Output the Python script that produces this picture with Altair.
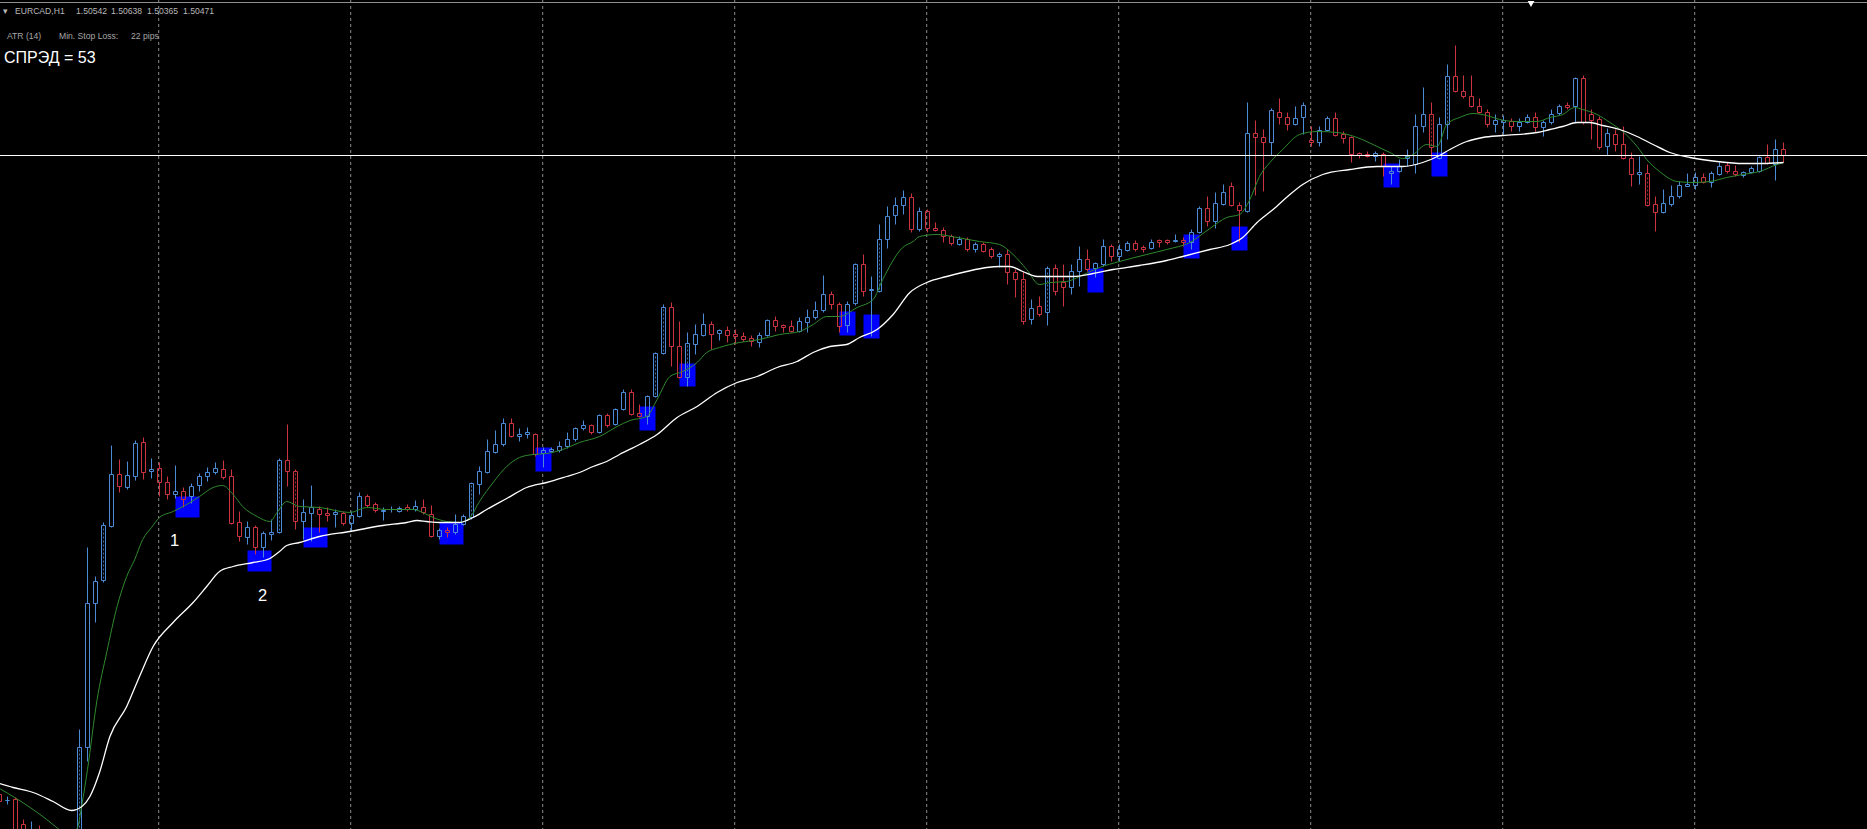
import altair as alt
import pandas as pd

# ---------------- data (price in chart points: 0 = bottom of visible range, 1 point = 0.5 pip) ----
FIRST_BAR = -1
opens = [34, 28, 29, 4, -31, -6, -31, -51, -41, -61,
         -41, 81, 225, 248, 302, 354, 341, 352, 386, 357,
         360, 346, 334, 337, 332, 343, 352, 356, 359, 352,
         306, 291, 301, 281, 294, 296, 368, 357, 307, 315,
         319, 315, 314, 315, 305, 312, 332, 324, 317, 319,
         317, 321, 319, 321, 314, 292, 298, 296, 304, 311,
         344, 356, 376, 384, 405, 392, 394, 394, 375, 377,
         378, 382, 389, 400, 403, 396, 413, 404, 419, 436,
         415, 412, 432, 475, 521, 482, 451, 484, 493, 504,
         495, 498, 494, 492, 490, 486, 493, 508, 503, 502,
         497, 506, 511, 518, 534, 524, 503, 525, 564, 538,
         537, 589, 613, 623, 631, 599, 617, 600, 598, 592,
         584, 589, 579, 584, 579, 572, 574, 556, 549, 509,
         522, 516, 560, 546, 541, 557, 569, 560, 564, 582,
         572, 578, 585, 581, 580, 588, 588, 587, 588, 586,
         596, 620, 607, 624, 642, 623, 617, 695, 691, 686,
         716, 711, 704, 711, 688, 686, 698, 710, 694, 691,
         675, 674, 672, 674, 655, 657, 670, 664, 702, 714,
         670, 704, 752, 737, 732, 722, 716, 704, 706, 707,
         702, 706, 711, 701, 706, 715, 723, 722, 750, 714,
         709, 682, 694, 684, 670, 654, 655, 624, 616, 624,
         632, 642, 643, 651, 646, 654, 663, 657, 653, 656,
         657, 671, 664, 679]
highs = [36, 32, 31, 9, 7, 3, -21, -31, -36, -31,
         99, 281, 252, 306, 383, 369, 367, 388, 391, 370,
         366, 352, 363, 341, 345, 355, 361, 366, 368, 359,
         317, 307, 303, 297, 309, 370, 404, 359, 329, 343,
         322, 321, 319, 317, 317, 336, 334, 326, 321, 322,
         322, 324, 328, 329, 323, 300, 301, 314, 314, 346,
         362, 389, 398, 410, 410, 400, 401, 395, 381, 381,
         387, 396, 401, 408, 404, 414, 415, 420, 439, 439,
         424, 433, 476, 524, 526, 507, 496, 504, 515, 507,
         499, 502, 499, 496, 493, 496, 509, 512, 504, 508,
         511, 519, 527, 553, 537, 526, 527, 565, 574, 552,
         604, 622, 631, 638, 635, 621, 619, 606, 601, 594,
         592, 591, 586, 586, 581, 576, 579, 559, 557, 529,
         532, 562, 564, 564, 564, 582, 579, 566, 589, 584,
         584, 587, 588, 583, 589, 589, 589, 594, 591, 599,
         622, 632, 636, 644, 646, 626, 726, 708, 699, 720,
         730, 716, 722, 726, 702, 702, 712, 716, 697, 692,
         676, 677, 677, 676, 662, 669, 679, 714, 741, 726,
         711, 764, 783, 753, 753, 730, 719, 714, 713, 710,
         710, 714, 716, 708, 719, 724, 726, 751, 753, 719,
         712, 700, 699, 702, 676, 672, 664, 632, 639, 643,
         647, 655, 656, 655, 657, 666, 666, 663, 657, 662,
         672, 684, 689, 686]
lows = [25, 24, -21, -31, -41, -41, -61, -66, -71, -71,
        -51, 67, 206, 246, 301, 336, 339, 348, 349, 350,
        332, 329, 330, 321, 325, 337, 347, 354, 349, 304,
        287, 284, 274, 271, 288, 295, 342, 299, 289, 287,
        296, 307, 301, 303, 297, 311, 321, 316, 308, 316,
        316, 317, 317, 314, 291, 289, 291, 294, 303, 309,
        334, 355, 375, 382, 391, 387, 390, 372, 361, 376,
        376, 380, 387, 398, 394, 395, 401, 403, 418, 413,
        411, 404, 431, 474, 462, 450, 442, 474, 492, 479,
        488, 486, 484, 487, 482, 481, 492, 497, 496, 496,
        496, 496, 509, 516, 519, 496, 496, 523, 532, 492,
        536, 580, 604, 614, 596, 597, 596, 597, 586, 583,
        583, 577, 576, 576, 570, 561, 544, 531, 504, 504,
        512, 503, 533, 522, 534, 542, 557, 551, 562, 567,
        567, 577, 577, 576, 579, 581, 584, 586, 582, 579,
        595, 602, 600, 623, 622, 586, 616, 633, 637, 673,
        704, 698, 703, 694, 682, 682, 697, 692, 685, 666,
        670, 671, 667, 652, 644, 656, 662, 655, 696, 671,
        669, 689, 736, 730, 721, 715, 701, 696, 694, 697,
        697, 705, 696, 692, 704, 713, 719, 706, 704, 689,
        679, 673, 677, 669, 642, 644, 622, 597, 615, 622,
        630, 642, 639, 645, 641, 653, 655, 652, 651, 655,
        656, 664, 648, 666]
closes = [27, 28, -11, -21, -6, -31, -51, -41, -61, -41,
          81, 225, 247, 303, 354, 342, 353, 385, 356, 359,
          346, 334, 337, 329, 342, 352, 356, 360, 351, 305,
          292, 301, 281, 295, 296, 368, 357, 307, 316, 321,
          314, 313, 316, 305, 313, 332, 323, 318, 318, 319,
          320, 319, 322, 316, 292, 298, 296, 304, 312, 345,
          357, 377, 384, 405, 392, 394, 396, 374, 378, 379,
          382, 389, 400, 403, 396, 413, 403, 419, 436, 414,
          412, 432, 475, 521, 482, 451, 485, 494, 504, 494,
          498, 493, 492, 489, 487, 493, 508, 502, 501, 497,
          507, 511, 518, 534, 524, 502, 524, 564, 537, 539,
          589, 612, 623, 631, 599, 617, 600, 598, 592, 585,
          589, 579, 584, 577, 572, 574, 556, 549, 507, 520,
          514, 560, 537, 541, 557, 569, 559, 565, 582, 572,
          579, 585, 579, 579, 586, 586, 586, 588, 586, 596,
          620, 607, 625, 636, 623, 618, 695, 691, 686, 718,
          711, 704, 710, 723, 686, 698, 710, 693, 690, 674,
          673, 672, 675, 662, 657, 662, 672, 702, 714, 681,
          704, 752, 737, 732, 722, 716, 704, 708, 708, 702,
          706, 711, 701, 706, 714, 722, 721, 750, 706, 708,
          681, 695, 684, 670, 654, 656, 623, 616, 625, 632,
          643, 644, 651, 646, 655, 662, 657, 654, 656, 660,
          671, 665, 679, 673]

# bars whose hollow body shows a dotted centre line
dotted_bars = [9, 12, 34, 36, 58, 81, 82, 85, 106, 109, 127, 130, 178, 180, 205]

# fast moving average (green), read as (bar, level)
green_bar = [-1, 0.9, 3.2, 4.9, 6.3, 7.3, 8.7, 9.3, 10.0, 11.2, 12.4, 13.7, 14.9, 15.9, 16.9, 18.0,
             19.0, 20.7, 22.4, 24.0, 25.7, 26.9, 28.2, 29.4, 31.2, 32.8, 33.7, 34.9, 36.5, 39.0,
             42.8, 44.9, 47.4, 50.7, 51.9, 53.2, 54.9, 56.5, 57.8, 59.0, 60.7, 62.4, 64.0, 65.7,
             67.4, 69.4, 71.5, 74.0, 76.2, 77.8, 79.9, 81.2, 82.8, 84.4, 86.2, 87.4, 89.0, 91.5,
             94.0, 96.5, 99.0, 100.7, 102.4, 104.0, 106.2, 108.2, 109.4, 111.9, 113.2, 114.0,
             116.2, 118.7, 121.5, 124.0, 125.7, 127.4, 129.0, 130.3, 132.4, 134.0, 136.5, 139.0,
             142.4, 144.9, 147.8, 150.3, 152.4, 154.0, 155.3, 156.5, 157.8, 159.4, 161.5, 163.7,
             166.2, 168.7, 171.2, 172.8, 174.4, 175.7, 177.4, 178.7, 179.9, 181.5, 183.2, 184.9,
             186.5, 188.7, 191.2, 192.8, 194.4, 195.9, 196.9, 198.7, 200.3, 201.9, 203.7, 204.9,
             206.5, 208.7, 210.7, 212.8, 214.9, 216.9, 219.0, 221.2, 222.0]
green_lvl = [40, 31, 19, 9, 0, -6, 0, 24, 59, 129, 176, 222, 252, 269, 289, 301,
             311, 317, 324, 332, 341, 343, 334, 322, 312, 307, 316, 327, 322, 321,
             316, 321, 319, 319, 316, 311, 307, 306, 311, 327, 346, 362, 371, 374,
             375, 379, 386, 392, 402, 408, 412, 429, 452, 457, 466, 476, 481, 486,
             489, 494, 497, 504, 512, 512, 521, 529, 549, 581, 587, 592,
             594, 591, 587, 584, 574, 559, 544, 546, 547, 552, 561, 567,
             574, 579, 586, 600, 611, 614, 629, 652, 666, 679, 694, 697,
             696, 691, 682, 676, 670, 674, 684, 682, 704, 711, 715, 713,
             709, 707, 707, 711, 714, 721, 719, 714, 706, 697, 682, 669,
             657, 647, 646, 647, 651, 654, 657, 664, 666]

# slow moving average (white)
white_bar = [-1, 0.7, 3.2, 5.7, 8.0, 9.3, 10.3, 11.5, 12.8, 14.9, 16.5, 18.2, 20.7, 23.2, 24.9,
             26.5, 28.2, 30.7, 32.8, 34.0, 34.9, 36.5, 39.0, 42.8, 46.9, 49.9, 51.2, 52.4, 54.0,
             56.5, 58.2, 59.9, 62.4, 64.9, 67.4, 69.9, 71.5, 73.2, 74.9, 76.5, 79.0, 81.2, 83.7,
             86.2, 88.7, 91.2, 93.7, 96.2, 98.7, 100.7, 102.8, 104.9, 106.5, 108.7, 110.7, 112.8,
             114.9, 117.4, 119.9, 122.4, 124.0, 125.3, 126.9, 128.7, 130.7, 133.2, 135.7, 138.2,
             141.5, 144.9, 146.9, 150.3, 152.8, 154.4, 156.2, 158.2, 160.3, 161.9, 164.4, 167.8,
             171.2, 174.4, 176.9, 179.0, 180.3, 182.4, 184.4, 186.9, 191.2, 192.8, 194.4, 196.2,
             197.8, 199.4, 201.5, 203.7, 205.7, 207.8, 210.3, 213.7, 216.9, 219.4, 222.0]
white_lvl = [45, 41, 36, 27, 18, 22, 32, 56, 92, 122, 152, 182, 206, 226, 242,
             257, 262, 266, 270, 277, 283, 286, 292, 297, 303, 306, 308, 307, 306,
             306, 311, 319, 330, 341, 346, 352, 356, 362, 367, 374, 384, 394, 411,
             422, 436, 446, 452, 461, 467, 476, 482, 484, 491, 499, 514, 536,
             546, 552, 557, 561, 562, 562, 557, 552, 552, 552, 555, 559,
             563, 568, 572, 579, 584, 591, 606, 619, 634, 644, 654, 659,
             662, 662, 666, 673, 679, 687, 691, 693, 696, 699, 702, 706,
             706, 703, 699, 692, 684, 676, 671, 667, 665, 665, 666]

# signal rectangles: first bar, last bar, upper level, lower level
box_from = [21, 30, 37, 54, 66, 79, 84, 104, 107, 135, 147, 153, 172, 178]
box_to = [24, 33, 40, 57, 68, 81, 86, 106, 109, 137, 149, 155, 174, 180]
box_top = [332, 278, 301, 306, 381, 422, 465, 517, 514, 560, 594, 602, 665, 676]
box_bot = [311, 257, 281, 284, 357, 398, 442, 493, 490, 536, 570, 578, 641, 652]

# day separators (bar positions)
day_bars = [18.9, 42.9, 66.9, 90.9, 114.9, 138.9, 162.9, 186.9, 210.9]

# wave labels
wave_txt = ["1", "2"]
wave_bar = [20.9, 31.9]
wave_lvl = [288, 233]

W, H = 1867, 829
BLUE = "#4a8ad6"
RED = "#cc3340"

bars = pd.DataFrame({"i": list(range(FIRST_BAR, FIRST_BAR + len(opens))),
                     "o": opens, "h": highs, "l": lows, "c": closes})
dotted = bars[bars["i"].isin(dotted_bars)]

XS = alt.Scale(domain=[-7.5 / 8, (W - 7.5) / 8], nice=False, zero=False)
YS = alt.Scale(domain=[-0.5, H - 0.5], nice=False, zero=False)


def X(f):
    return alt.X(f, type="quantitative", scale=XS, axis=None)


def Y(f):
    return alt.Y(f, type="quantitative", scale=YS, axis=None)


col = alt.condition("datum.c >= datum.o", alt.value(BLUE), alt.value(RED))

base = alt.Chart(bars).transform_calculate(
    top="max(datum.o, datum.c)", bot="min(datum.o, datum.c)",
    xa="datum.i - 0.25", xb="datum.i + 0.25")

wick_hi = base.mark_rule(strokeWidth=1, clip=True).encode(
    x=X("i"), y=Y("top"), y2="h:Q", color=col)
wick_lo = base.mark_rule(strokeWidth=1, clip=True).encode(
    x=X("i"), y=Y("l"), y2="bot:Q", color=col)
body = base.mark_rect(fillOpacity=0, strokeWidth=1, clip=True).encode(
    x=X("xa"), x2="xb:Q", y=Y("bot"), y2="top:Q", stroke=col)
dots = alt.Chart(dotted).transform_calculate(
    top="max(datum.o, datum.c) - 2", bot="min(datum.o, datum.c) + 2"
).mark_rule(strokeWidth=1, strokeDash=[2, 2], clip=True, opacity=0.8).encode(
    x=X("i"), y=Y("bot"), y2="top:Q", color=col)

boxes = alt.Chart(pd.DataFrame({"a": box_from, "b": box_to, "t": box_top, "u": box_bot})).mark_rect(
    color="#0000ff", clip=True).encode(x=X("a"), x2="b:Q", y=Y("u"), y2="t:Q")

grid = alt.Chart(pd.DataFrame({"d": day_bars})).mark_rule(
    color="#8c8c8c", strokeWidth=1, strokeDash=[3, 3]).encode(x=X("d"))

green = alt.Chart(pd.DataFrame({"b": green_bar, "v": green_lvl})).mark_line(
    color="#2f8a2f", strokeWidth=1, interpolate="monotone", clip=True).encode(
    x=X("b"), y=Y("v"), order="b:Q")
white = alt.Chart(pd.DataFrame({"b": white_bar, "v": white_lvl})).mark_line(
    color="#ffffff", strokeWidth=1.3, interpolate="monotone", clip=True).encode(
    x=X("b"), y=Y("v"), order="b:Q")

hline = alt.Chart(pd.DataFrame({"v": [closes[-1]]})).mark_rule(
    color="#ffffff", strokeWidth=1).encode(y=Y("v"))

waves = alt.Chart(pd.DataFrame({"t": wave_txt, "b": wave_bar, "v": wave_lvl})).mark_text(
    color="#ffffff", font="Liberation Sans", fontSize=16.5, baseline="middle", align="center").encode(
    x=X("b"), y=Y("v"), text="t:N")

shift = alt.Chart(pd.DataFrame({"b": [190.44], "v": [824.5]})).mark_point(
    shape="triangle-down", filled=True, color="#ffffff", size=45, opacity=1).encode(x=X("b"), y=Y("v"))

topline = alt.Chart(pd.DataFrame({"v": [H - 3]})).mark_rule(color="#8e8e8e", strokeWidth=1).encode(y=Y("v"))

hdr_txt = ["\u25be", "EURCAD,H1", "1.50542", "1.50638", "1.50365", "1.50471",
           "ATR (14)", "Min. Stop Loss:", "22 pips"]
hdr_x = [3, 15, 76, 111, 147, 183, 7, 59, 131]
hdr_y = [10.5, 10.5, 10.5, 10.5, 10.5, 10.5, 36, 36, 36]
hdr_c = ["#b8b8b8"] * 6 + ["#a6a6a6"] * 3

labels = []
for t, x, y, c in zip(hdr_txt, hdr_x, hdr_y, hdr_c):
    labels.append(alt.Chart(pd.DataFrame({"t": [t]})).mark_text(
        color=c, font="Liberation Sans", fontSize=8.6, align="left", baseline="middle").encode(
        x=alt.value(x), y=alt.value(y), text="t:N"))

spread = alt.Chart(pd.DataFrame({"t": ["СПРЭД = 53"]})).mark_text(
    color="#ffffff", font="Liberation Sans", fontSize=16, align="left", baseline="middle").encode(
    x=alt.value(4), y=alt.value(57.5), text="t:N")

chart = alt.layer(grid, topline, boxes, wick_hi, wick_lo, body, dots, green, white, hline,
                  waves, shift, spread, *labels).properties(
    width=W, height=H, background="#000000", padding=0, autosize="none"
).configure_view(stroke=None)

chart.save("out.html", embed_options={"renderer": "svg", "actions": False})
